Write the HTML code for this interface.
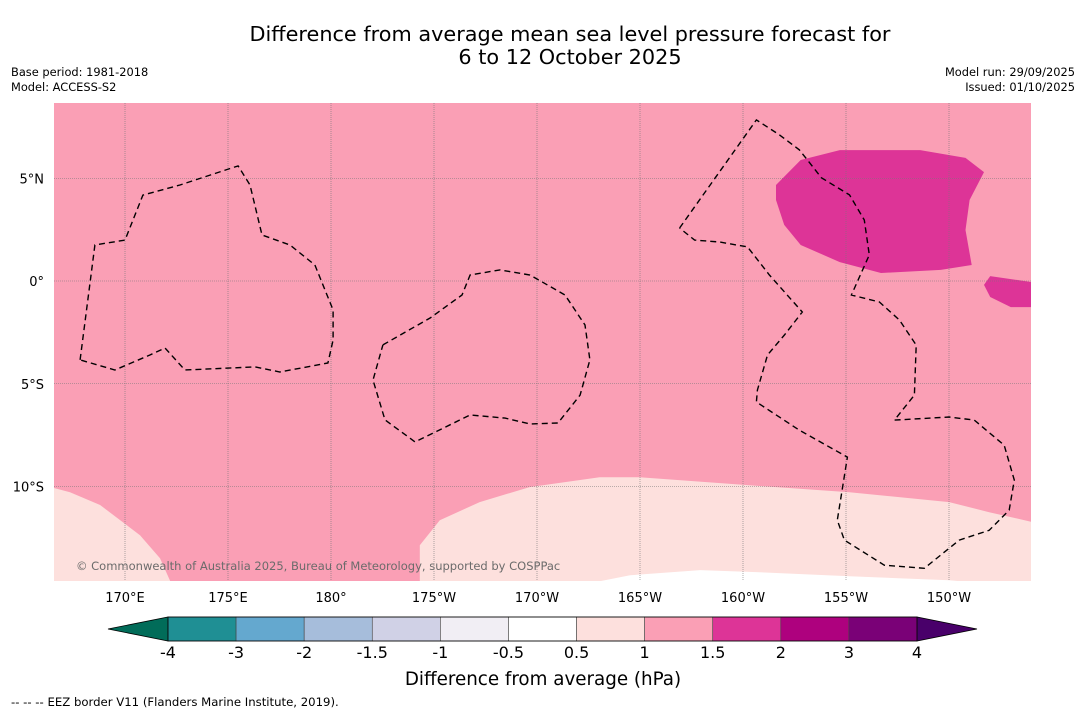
<!DOCTYPE html>
<html><head><meta charset="utf-8"><style>
body{margin:0;background:#fff;width:1085px;height:713px;overflow:hidden;font-family:"DejaVu Sans","Liberation Sans",sans-serif}
svg{position:absolute;left:0;top:0}
</style></head><body>
<svg id="chart" width="1085" height="713"></svg>
<script>
const lonTicks=[170,175,180,185,190,195,200,205,210];
const lonLabels=["170°E","175°E","180°","175°W","170°W","165°W","160°W","155°W","150°W"];
const latTicks=[5,0,-5,-10];
const latLabels=["5°N","0°","5°S","10°S"];
const cbLevels=[-4,-3,-2,-1.5,-1,-0.5,0.5,1,1.5,2,3,4];
const cbLabels=["-4","-3","-2","-1.5","-1","-0.5","0.5","1","1.5","2","3","4"];
const cbColors=["#1f8f94","#64a8cf","#a6bddb","#d0d1e6","#f1eef4","#ffffff","#fde0dd","#fa9fb5","#dd3497","#ae017e","#7a0177"];
const highLon=[201.6,202.8,204.7,208.6,210.8,211.7,211.0,210.8,211.1,209.6,206.7,204.7,202.8,202.0,201.6];
const highLat=[4.67,5.89,6.37,6.37,5.99,5.3,3.94,2.48,0.78,0.54,0.39,0.92,1.75,2.73,3.94];
const high2Lon=[211.7,212.0,214.0,214.0,213.0,212.0];
const high2Lat=[-0.19,0.24,-0.05,-1.27,-1.27,-0.78];
const lowALon=[166.4,166.4,172.28,171.7,170.73,168.79,167.33];
const lowALat=[-10.03,-14.8,-14.8,-13.49,-12.37,-10.9,-10.28];
const lowBLon=[184.31,184.31,185.28,187.22,189.64,193.04,194.98,200.31,205.17,210.01,211.95,214.1,214.1];
const lowBLat=[-14.8,-12.86,-11.64,-10.76,-10.03,-9.55,-9.55,-9.94,-10.28,-10.76,-11.25,-11.74,-14.8];
const zeroLon=[192.09,194.52,197.92,200.8,205.17,210.01,212.44];
const zeroLat=[-14.8,-14.32,-14.07,-14.17,-14.37,-14.56,-14.8];
const eez1Lon=[167.82,168.54,170,170.87,172.67,175.49,176.07,176.65,178.01,179.22,179.71,180.1,180.1,179.85,177.52,176.31,172.91,171.94,171.21,169.51,167.82];
const eez1Lat=[-3.84,1.75,1.99,4.18,4.67,5.6,4.67,2.24,1.75,0.78,-0.44,-1.41,-2.87,-3.99,-4.43,-4.18,-4.33,-3.26,-3.6,-4.33,-3.84];
const eez2Lon=[182.52,184.81,186.36,186.75,188.2,189.66,191.36,192.33,192.57,192.09,191.02,189.66,188.45,186.75,184.08,182.62,182.04,182.52];
const eez2Lat=[-3.11,-1.8,-0.68,0.29,0.54,0.29,-0.68,-2.14,-3.84,-5.55,-6.91,-6.96,-6.67,-6.52,-7.83,-6.76,-4.82,-3.11];
const eez3Lon=[196.92,200.65,201.77,202.74,203.81,205.17,205.89,206.13,205.26,206.62,207.59,208.41,208.32,207.35,210.01,211.23,212.68,213.17,212.92,211.95,210.5,208.8,206.86,204.92,204.58,205.07,202.74,200.65,200.7,201.19,202.01,202.88,201.28,200.22,198.86,197.65,196.92];
const eez3Lat=[2.58,7.84,7.11,6.38,5.02,4.19,2.97,1.27,-0.68,-1.02,-1.9,-3.12,-5.55,-6.77,-6.62,-6.77,-7.99,-9.69,-11.15,-12.13,-12.61,-13.98,-13.83,-12.61,-11.64,-8.57,-7.26,-5.89,-5.31,-3.6,-2.63,-1.51,0.29,1.66,1.9,1.99,2.58];

const MX0=54,MX1=1031,MY0=103,MY1=581;
const xS=lon=>125+(lon-170)*20.6;
const yS=lat=>281-lat*20.55;
const svg=document.getElementById('chart');
const NS='http://www.w3.org/2000/svg';
function mk(tag,attrs,parent){const e=document.createElementNS(NS,tag);for(const k in attrs)e.setAttribute(k,attrs[k]);(parent||svg).appendChild(e);return e;}
function pts(lons,lats){return lons.map((l,i)=>xS(l).toFixed(1)+','+yS(lats[i]).toFixed(1)).join(' ');}

const defs=mk('defs',{});
const cp=mk('clipPath',{id:'mapclip'},defs);
mk('rect',{x:MX0,y:MY0,width:MX1-MX0,height:MY1-MY0},cp);
const map=mk('g',{'clip-path':'url(#mapclip)'});


const bg=mk('rect',{x:MX0,y:MY0,width:MX1-MX0,height:MY1-MY0,fill:'#fa9fb5'},map);


function poly(lons,lats,fill,name){const p=mk('polygon',{points:pts(lons,lats),fill:fill},map);}
poly(highLon,highLat,'#dd3497','high-anomaly-region');
poly(high2Lon,high2Lat,'#dd3497','high-anomaly-region-east');
poly(lowALon,lowALat,'#fde0dd','low-anomaly-region-west');
poly(lowBLon,lowBLat,'#fde0dd','low-anomaly-region-south');
poly(zeroLon,zeroLat,'#ffffff','neutral-region');
lonTicks.forEach((l,i)=>{const g=mk('line',{x1:xS(l),x2:xS(l),y1:MY0,y2:MY1,stroke:'#777','stroke-width':0.6,'stroke-dasharray':'1,1'},map);});
latTicks.forEach((l,i)=>{const g=mk('line',{x1:MX0,x2:MX1,y1:yS(l),y2:yS(l),stroke:'#777','stroke-width':0.6,'stroke-dasharray':'1,1'},map);});
[[eez1Lon,eez1Lat],[eez2Lon,eez2Lat],[eez3Lon,eez3Lat]].forEach(([a,b],i)=>{const p=mk('polyline',{points:pts(a,b),fill:'none',stroke:'#000','stroke-width':1.4,'stroke-dasharray':'6,4'},map);});
const cr=mk('text',{x:76,y:570,'font-size':11.5,fill:'#6b6b6b'},map);cr.textContent='© Commonwealth of Australia 2025, Bureau of Meteorology, supported by COSPPac';


lonTicks.forEach((l,i)=>{const t=mk('text',{x:xS(l),y:602,'font-size':13,'text-anchor':'middle',fill:'#000'});t.textContent=lonLabels[i];});
latTicks.forEach((l,i)=>{const t=mk('text',{x:44,y:yS(l)+5,'font-size':13,'text-anchor':'end',fill:'#000'});t.textContent=latLabels[i];});

const cbX0=168,cbX1=917,cbY=617,cbH=24;
const cbx=i=>cbX0+(cbX1-cbX0)*i/(cbLevels.length-1);
const cb=mk('g',{});
const lt=mk('polygon',{points:`${cbX0},${cbY} ${cbX0},${cbY+cbH} 108,${cbY+cbH/2}`,fill:'#016c59',stroke:'#000','stroke-width':0.8},cb);

const rt=mk('polygon',{points:`${cbX1},${cbY} ${cbX1},${cbY+cbH} 977,${cbY+cbH/2}`,fill:'#49006a',stroke:'#000','stroke-width':0.8},cb);

cbColors.forEach((c,i)=>{const r=mk('rect',{x:cbx(i),y:cbY,width:cbx(i+1)-cbx(i),height:cbH,fill:c,stroke:'#444','stroke-width':0.6},cb);});
mk('rect',{x:cbX0,y:cbY,width:cbX1-cbX0,height:cbH,fill:'none',stroke:'#000','stroke-width':0.8},cb);
cbLabels.forEach((s,i)=>{const t=mk('text',{x:cbx(i),y:658,'font-size':16,'text-anchor':'middle',fill:'#000'},cb);t.textContent=s;});

function txt(x,y,s,size,anchor,name){const t=mk('text',{x:x,y:y,'font-size':size,'text-anchor':anchor,fill:'#000'});t.textContent=s;}
txt(570,41,'Difference from average mean sea level pressure forecast for',20.8,'middle','chart-title');
txt(570,64,'6 to 12 October 2025',20.8,'middle','chart-subtitle');
txt(11,76,'Base period: 1981-2018',11.4,'start','base-period');
txt(11,91,'Model: ACCESS-S2',11.4,'start','model-name');
txt(1075,76,'Model run: 29/09/2025',11.4,'end','model-run');
txt(1075,91,'Issued: 01/10/2025',11.4,'end','issued-date');
txt(543,685,'Difference from average (hPa)',18.3,'middle','colorbar-title');
txt(11,706,'--  --  -- EEZ border V11 (Flanders Marine Institute, 2019).',11.7,'start','eez-legend');
</script>
</body></html>
